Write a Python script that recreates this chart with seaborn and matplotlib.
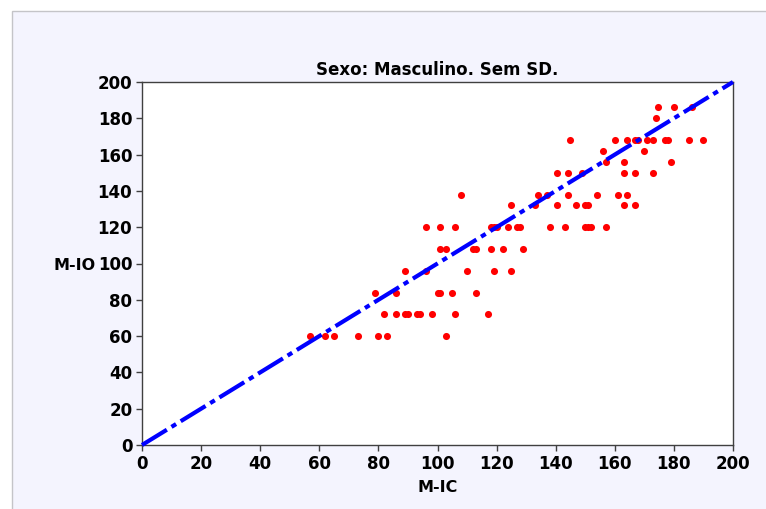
import matplotlib
matplotlib.use("Agg")
import matplotlib.pyplot as plt
import seaborn as sns
import pandas as pd
from matplotlib.patches import Rectangle

# ---- data ----
y60 = [57, 62, 65, 73, 80, 83, 103]
y72 = [82, 86, 89, 90, 93, 94, 98, 106, 117]
y84 = [79, 86, 100, 101, 105, 113]
y96 = [89, 96, 110, 119, 125]
y108 = [101, 103, 112, 113, 118, 122, 129]
y120 = [96, 101, 106, 118, 119, 120, 124, 127, 128, 138, 143, 150, 151, 152, 157]
y132 = [125, 133, 140.5, 147, 150, 151, 163, 167]
y138 = [108, 134, 137, 144, 154, 161, 164]
y150 = [140.5, 144, 149, 163, 167, 173]
y156 = [157, 163, 179]
y162 = [156, 170]
y168 = [145, 160, 164, 167, 168, 171, 173, 177, 178, 185, 190]
y180 = [174]
y186 = [174.5, 180, 186]

levels = [60, 72, 84, 96, 108, 120, 132, 138, 150, 156, 162, 168, 180, 186]
groups = [y60, y72, y84, y96, y108, y120, y132, y138, y150, y156, y162, y168, y180, y186]

ref_x = [0, 200]
ref_y = [0, 200]
ticks = [0, 20, 40, 60, 80, 100, 120, 140, 160, 180, 200]

title = "Sexo: Masculino. Sem SD."
xlabel = "M-IC"
ylabel = "M-IO"

mic, mio = [], []
for lv, g in zip(levels, groups):
    for v in g:
        mic.append(v)
        mio.append(lv)
df = pd.DataFrame({"M-IC": mic, "M-IO": mio})

# ---- style ----
sns.set_theme(style="white")
plt.rcParams["font.family"] = ["DejaVu Sans"]
plt.rcParams["font.weight"] = "bold"
plt.rcParams["text.color"] = "black"
plt.rcParams["axes.labelcolor"] = "black"
plt.rcParams["xtick.color"] = "black"
plt.rcParams["ytick.color"] = "black"

W, H = 766, 509
fig = plt.figure(figsize=(W / 100, H / 100), dpi=100)
fig.patch.set_facecolor("white")

# lavender panel with light grey border (drawn behind the axes)
bg = fig.add_axes([0, 0, 1, 1], zorder=-5)
bg.set_xlim(0, W)
bg.set_ylim(H, 0)
bg.axis("off")
bg.add_patch(Rectangle((12, 11), W, H, facecolor="#F4F4FE",
                       edgecolor="#C4C4C8", linewidth=1.0))

ax = fig.add_axes([142 / W, 1 - 445 / H, (733 - 142) / W, (445 - 82) / H],
                  zorder=1)
ax.set_facecolor("white")

sns.scatterplot(data=df, x="M-IC", y="M-IO", ax=ax, color="#FF0000",
                s=26, linewidth=0, zorder=2, legend=False)
ax.plot(ref_x, ref_y, color="#0000FF", linewidth=3.0,
        dashes=(7, 1.3, 1.3, 1.3), dash_capstyle="butt", zorder=3,
        clip_on=False)

ax.set_xlim(0, 200)
ax.set_ylim(0, 200)
ax.set_xticks(ticks)
ax.set_yticks(ticks)
ax.set_xticklabels([str(t) for t in ticks], fontsize=12, fontweight="bold",
                   color="black")
ax.set_yticklabels([str(t) for t in ticks], fontsize=12, fontweight="bold",
                   color="black")
ax.tick_params(axis="both", direction="out", length=4, width=1,
               color="#404040", pad=3, bottom=True, left=True)

for sp in ax.spines.values():
    sp.set_visible(True)
    sp.set_color("#404040")
    sp.set_linewidth(1.0)

ax.set_title(title, fontsize=12, fontweight="bold", pad=5, color="black")
ax.set_xlabel(xlabel, fontsize=11.5, fontweight="bold", color="black")
ax.set_ylabel(ylabel, fontsize=11.5, fontweight="bold", rotation=0,
              color="black")
ax.xaxis.set_label_coords(0.5, -0.118)
ax.xaxis.label.set_verticalalignment("center")
ax.yaxis.set_label_coords(-0.114, 0.495)
ax.yaxis.label.set_verticalalignment("center")
ax.yaxis.label.set_horizontalalignment("center")
ax.grid(False)

fig.savefig("out.png", dpi=100, facecolor=fig.get_facecolor())
